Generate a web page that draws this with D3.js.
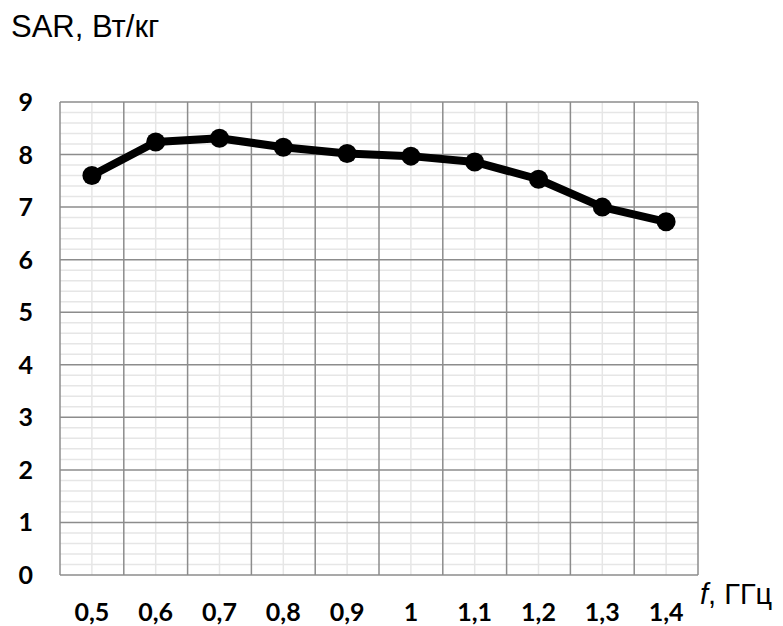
<!DOCTYPE html>
<html>
<head>
<meta charset="utf-8">
<script src="https://cdn.jsdelivr.net/npm/d3@7"></script>
<style>
  body { margin: 0; background: #fff; }
  svg { display: block; }
</style>
</head>
<body>
<div id="chart"></div>
<script>
// chart values
const freqs = ['0,5', '0,6', '0,7', '0,8', '0,9', '1', '1,1', '1,2', '1,3', '1,4'];
const sar = [7.6, 8.24, 8.31, 8.14, 8.02, 7.97, 7.86, 7.53, 7.0, 6.72];
const yTicks = [0, 1, 2, 3, 4, 5, 6, 7, 8, 9];

const width = 783, height = 626;
const plot = {left: 60, right: 698, top: 102, bottom: 575};

const svg = d3.select('#chart').append('svg')
  .attr('width', width)
  .attr('height', height);

const x = d3.scaleBand().domain(freqs).range([plot.left, plot.right]).padding(0);
const y = d3.scaleLinear().domain([0, 9]).range([plot.bottom, plot.top]);

const grid = svg.append('g');

// minor horizontal lines every 0.2
const minorY = d3.range(0, 9.01, 0.2).filter(v => Math.abs(v - Math.round(v)) > 0.01);
grid.selectAll('.hmin').data(minorY).join('line')
  .attr('x1', plot.left).attr('x2', plot.right)
  .attr('y1', d => y(d)).attr('y2', d => y(d))
  .attr('stroke', '#e6e6e6').attr('stroke-width', 1.5);

// minor vertical lines at category centres
grid.selectAll('.vmin').data(freqs).join('line')
  .attr('x1', d => x(d) + x.bandwidth() / 2).attr('x2', d => x(d) + x.bandwidth() / 2)
  .attr('y1', plot.top).attr('y2', plot.bottom)
  .attr('stroke', '#e6e6e6').attr('stroke-width', 1.5);

// major vertical lines at category edges
const edges = freqs.map(d => x(d)).concat([plot.right]);
grid.selectAll('.vmaj').data(edges).join('line')
  .attr('x1', d => d).attr('x2', d => d)
  .attr('y1', plot.top).attr('y2', plot.bottom)
  .attr('stroke', '#8c8c8c').attr('stroke-width', 1.5);

// major horizontal lines
grid.selectAll('.hmaj').data(yTicks).join('line')
  .attr('x1', plot.left).attr('x2', plot.right)
  .attr('y1', d => y(d)).attr('y2', d => y(d))
  .attr('stroke', '#8c8c8c').attr('stroke-width', 1.5);

// y tick labels
svg.append('g').selectAll('text').data(yTicks).join('text')
  .attr('x', 33).attr('y', d => y(d))
  .attr('dy', '0.36em')
  .attr('text-anchor', 'end')
  .style('font', 'bold 25px Lato, "Open Sans", sans-serif')
  .text(d => d);

// x tick labels
svg.append('g').selectAll('text').data(freqs).join('text')
  .attr('x', d => x(d) + x.bandwidth() / 2).attr('y', 621)
  .attr('text-anchor', 'middle')
  .style('font', 'bold 25px Lato, "Open Sans", sans-serif')
  .text(d => d);

// data line
const line = d3.line()
  .x((d, i) => x(freqs[i]) + x.bandwidth() / 2)
  .y(d => y(d));

svg.append('path').datum(sar)
  .attr('d', line)
  .attr('fill', 'none')
  .attr('stroke', '#000')
  .attr('stroke-width', 8)
  .attr('stroke-linejoin', 'round');

svg.append('g').selectAll('circle').data(sar).join('circle')
  .attr('cx', (d, i) => x(freqs[i]) + x.bandwidth() / 2)
  .attr('cy', d => y(d))
  .attr('r', 9.5)
  .attr('fill', '#000');

// axis titles
svg.append('text')
  .attr('x', 11).attr('y', 37)
  .style('font', '31px "Liberation Sans", Arial, sans-serif')
  .text('SAR, Вт/кг');

const xt = svg.append('text')
  .attr('x', 700).attr('y', 604)
  .style('font', '29px "Liberation Sans", Arial, sans-serif');
xt.append('tspan').style('font-style', 'italic').text('f');
xt.append('tspan').text(', ГГц');
</script>
</body>
</html>
